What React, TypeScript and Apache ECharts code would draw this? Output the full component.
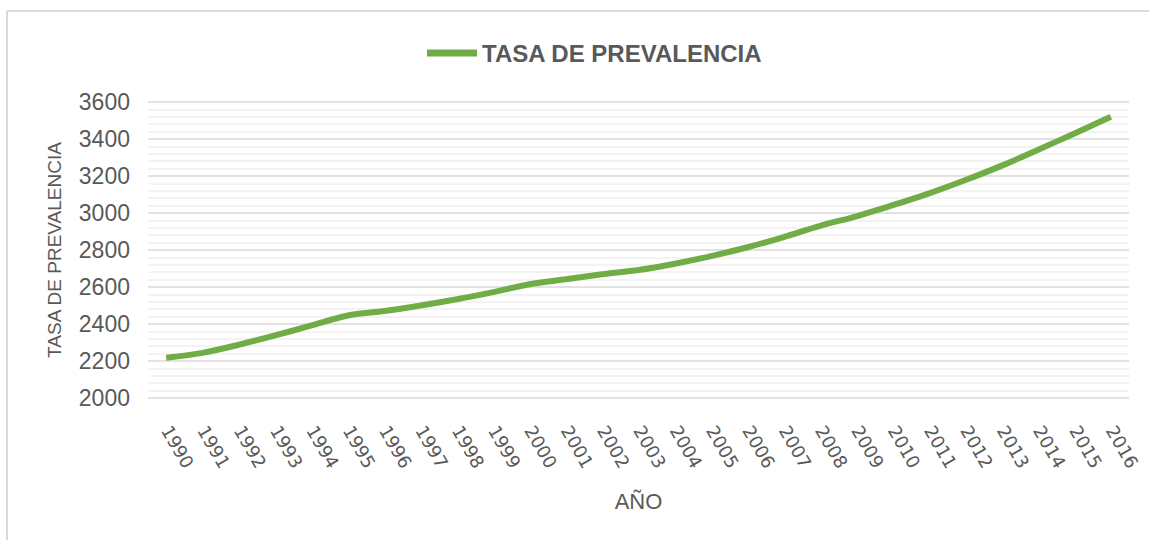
import React, { useEffect, useRef } from "react";
import * as echarts from "echarts";

const years: string[] = [
  "1990", "1991", "1992", "1993", "1994", "1995", "1996", "1997", "1998",
  "1999", "2000", "2001", "2002", "2003", "2004", "2005", "2006", "2007",
  "2008", "2009", "2010", "2011", "2012", "2013", "2014", "2015", "2016",
];

const prevalence: number[] = [
  2218, 2244, 2288, 2338, 2392, 2446, 2470, 2500, 2534, 2572, 2615,
  2642, 2669, 2692, 2726, 2767, 2815, 2870, 2931, 2982, 3042, 3106,
  3178, 3256, 3342, 3430, 3520,
];

const yTicks = { min: 2000, max: 3600, interval: 200 };

const seriesName = "TASA DE PREVALENCIA";
const xName = "AÑO";
const yName = "TASA DE PREVALENCIA";

export default function App() {
  const ref = useRef<HTMLDivElement>(null);
  useEffect(() => {
    if (!ref.current) return;
    const chart = echarts.init(ref.current, null, { renderer: "svg" });
    chart.setOption({
      animation: false,
      backgroundColor: "#ffffff",
      graphic: [
        {
          type: "line",
          shape: { x1: 7, y1: 11, x2: 1149, y2: 11 },
          style: { stroke: "#d9d9d9", lineWidth: 2 },
          silent: true,
          z: -10,
        },
        {
          type: "line",
          shape: { x1: 7, y1: 11, x2: 7, y2: 540 },
          style: { stroke: "#d9d9d9", lineWidth: 2 },
          silent: true,
          z: -10,
        },
      ],
      legend: {
        show: true,
        left: 422,
        top: 36,
        icon: "rect",
        itemWidth: 50,
        itemHeight: 7,
        textStyle: {
          fontFamily: "Liberation Sans, Arial",
          fontWeight: "bold",
          fontSize: 24,
          color: "#595959",
        },
        data: [seriesName],
      },
      grid: {
        left: 148,
        right: 20,
        top: 102,
        bottom: 142,
      },
      xAxis: {
        type: "category",
        data: years,
        boundaryGap: true,
        axisLine: { show: false },
        axisTick: { show: false },
        axisLabel: {
          rotate: -60,
          margin: 29,
          fontFamily: "DejaVu Sans",
          fontSize: 18,
          color: "#595959",
          interval: 0,
        },
        name: xName,
        nameLocation: "middle",
        nameGap: 92,
        nameTextStyle: {
          fontFamily: "Liberation Sans, Arial",
          fontSize: 22,
          color: "#595959",
        },
      },
      yAxis: {
        type: "value",
        min: yTicks.min,
        max: yTicks.max,
        interval: yTicks.interval,
        axisLine: { show: false },
        axisTick: { show: false },
        axisLabel: {
          margin: 18,
          fontFamily: "Liberation Sans, Arial",
          fontSize: 23,
          color: "#595959",
          formatter: (v: number) => String(v),
        },
        splitLine: { show: true, lineStyle: { color: "#d9d9d9", width: 1.5 } },
        minorTick: { show: false, splitNumber: 5 },
        minorSplitLine: { show: true, lineStyle: { color: "#efefef", width: 1.5 } },
        name: yName,
        nameLocation: "middle",
        nameGap: 84,
        nameRotate: 90,
        nameTextStyle: {
          fontFamily: "Liberation Sans, Arial",
          fontSize: 19,
          color: "#595959",
        },
      },
      series: [
        {
          name: seriesName,
          type: "line",
          data: prevalence,
          smooth: 0.3,
          symbol: "none",
          lineStyle: { color: "#70ad47", width: 6 },
          itemStyle: { color: "#70ad47" },
        },
      ],
    });
    return () => chart.dispose();
  }, []);
  return (
    <div
      ref={ref}
      style={{ position: "fixed", left: 0, top: 0, width: 1149, height: 540 }}
    />
  );
}
